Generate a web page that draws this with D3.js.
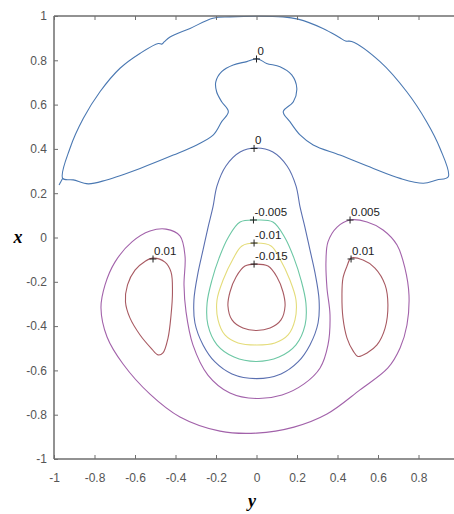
<!DOCTYPE html>
<html><head><meta charset="utf-8">
<script src="https://cdn.jsdelivr.net/npm/d3@7"></script>
<style>html,body{margin:0;padding:0;background:#fff;overflow:hidden}</style>
</head><body><svg id="c" width="454" height="514"></svg>
<script>
// ---- data (horizontal = y, vertical = x) ----
const xTickValues = [-1,-0.8,-0.6,-0.4,-0.2,0,0.2,0.4,0.6,0.8];
const yTickValues = [1,0.8,0.6,0.4,0.2,0,-0.2,-0.4,-0.6,-0.8,-1];

const contour0Top = [[-0.957,0.267],[-0.921,0.403],[-0.855,0.538],[-0.773,0.658],[-0.674,0.764],[-0.574,0.832],[-0.485,0.876],[-0.468,0.873],[-0.455,0.884],[-0.427,0.905],[-0.328,0.944],[-0.215,0.99],[-0.131,0.996],[0.131,0.996],[0.205,0.986],[0.328,0.944],[0.41,0.903],[0.44,0.887],[0.47,0.885],[0.610,0.794],[0.742,0.658],[0.840,0.523],[0.906,0.403],[0.947,0.274],[0.890,0.260],[0.824,0.245],[0.709,0.267],[0.577,0.312],[0.412,0.372],[0.280,0.418],[0.215,0.463],[0.165,0.523],[0.132,0.568],[0.182,0.613],[0.199,0.674],[0.174,0.734],[0.116,0.771],[0.050,0.786],[0.004,0.807],[-0.048,0.794],[-0.115,0.779],[-0.172,0.749],[-0.201,0.703],[-0.197,0.658],[-0.172,0.613],[-0.139,0.568],[-0.172,0.523],[-0.213,0.463],[-0.295,0.418],[-0.411,0.372],[-0.575,0.312],[-0.740,0.260],[-0.831,0.242],[-0.905,0.260]];
const contour0TopTail = [[-0.957,0.267],[-0.975,0.237]];
const contour0Center = [[0,0.404],[0.081,0.386],[0.151,0.323],[0.195,0.233],[0.215,0.138],[0.239,0.047],[0.264,-0.056],[0.289,-0.160],[0.309,-0.282],[0.304,-0.386],[0.264,-0.485],[0.205,-0.562],[0.121,-0.616],[0,-0.637],[-0.121,-0.616],[-0.205,-0.562],[-0.264,-0.485],[-0.304,-0.386],[-0.309,-0.282],[-0.289,-0.160],[-0.264,-0.056],[-0.239,0.047],[-0.215,0.138],[-0.195,0.233],[-0.151,0.323],[-0.081,0.386]];
const contourM005 = [[0,0.079],[0.081,0.070],[0.141,-0.002],[0.185,-0.093],[0.220,-0.192],[0.244,-0.296],[0.240,-0.395],[0.195,-0.485],[0.111,-0.540],[0,-0.560],[-0.111,-0.540],[-0.195,-0.485],[-0.240,-0.395],[-0.244,-0.296],[-0.220,-0.192],[-0.185,-0.093],[-0.141,-0.002],[-0.081,0.070]];
const contourM01 = [[0,-0.025],[0.072,-0.038],[0.116,-0.097],[0.165,-0.192],[0.195,-0.282],[0.190,-0.372],[0.156,-0.440],[0.091,-0.476],[0,-0.485],[-0.091,-0.476],[-0.156,-0.440],[-0.190,-0.372],[-0.195,-0.282],[-0.165,-0.192],[-0.116,-0.097],[-0.072,-0.038]];
const contourM015 = [[0,-0.120],[0.057,-0.129],[0.101,-0.178],[0.131,-0.246],[0.141,-0.309],[0.121,-0.372],[0.067,-0.409],[0,-0.420],[-0.067,-0.409],[-0.121,-0.372],[-0.141,-0.309],[-0.131,-0.246],[-0.101,-0.178],[-0.057,-0.129]];
const contour005 = [[0.462,0.079],[0.546,0.070],[0.625,0.034],[0.694,-0.034],[0.733,-0.138],[0.753,-0.260],[0.743,-0.395],[0.709,-0.499],[0.649,-0.589],[0.511,-0.688],[0.348,-0.797],[0.185,-0.856],[0,-0.883],[-0.180,-0.874],[-0.378,-0.810],[-0.526,-0.707],[-0.659,-0.571],[-0.738,-0.449],[-0.768,-0.318],[-0.748,-0.214],[-0.699,-0.111],[-0.615,-0.020],[-0.526,0.029],[-0.447,0.038],[-0.378,0.007],[-0.353,-0.084],[-0.358,-0.214],[-0.348,-0.336],[-0.314,-0.485],[-0.240,-0.621],[-0.131,-0.702],[0,-0.727],[0.126,-0.711],[0.235,-0.661],[0.314,-0.589],[0.353,-0.485],[0.363,-0.350],[0.348,-0.228],[0.343,-0.111],[0.353,-0.020],[0.398,0.047]];
const contour01Left = [[-0.511,-0.093],[-0.452,-0.111],[-0.422,-0.156],[-0.415,-0.246],[-0.422,-0.350],[-0.437,-0.454],[-0.462,-0.521],[-0.486,-0.530],[-0.521,-0.499],[-0.575,-0.440],[-0.625,-0.363],[-0.647,-0.291],[-0.637,-0.214],[-0.600,-0.147],[-0.551,-0.108]];
const contour01Right = [[0.467,-0.093],[0.526,-0.102],[0.585,-0.138],[0.635,-0.214],[0.649,-0.305],[0.635,-0.409],[0.595,-0.485],[0.546,-0.521],[0.501,-0.537],[0.477,-0.512],[0.447,-0.454],[0.427,-0.363],[0.422,-0.260],[0.427,-0.183],[0.447,-0.129]];

const contourLabels = [
  {text:"0", y:0.0, x:0.806},
  {text:"0", y:-0.012, x:0.402},
  {text:"-0.005", y:-0.015, x:0.079},
  {text:"-0.01", y:-0.012, x:-0.025},
  {text:"-0.015", y:-0.012, x:-0.120},
  {text:"0.005", y:0.462, x:0.079},
  {text:"0.01", y:0.467, x:-0.097},
  {text:"0.01", y:-0.511, x:-0.097}
];

// ---- drawing ----
const svg = d3.select("#c");
const sx = d3.scaleLinear().domain([-1,1]).range([54,459]);
const sy = d3.scaleLinear().domain([-1,1]).range([459,16]);

const series = [
  {pts:contour0Top, color:"#4a78b2", closed:true},
  {pts:contour0TopTail, color:"#4a78b2", closed:false},
  {pts:contour0Center, color:"#5a6fb0", closed:true},
  {pts:contourM005, color:"#6cc7a4", closed:true},
  {pts:contourM01, color:"#e4dc7a", closed:true},
  {pts:contourM015, color:"#a85a62", closed:true},
  {pts:contour005, color:"#a262aa", closed:true},
  {pts:contour01Left, color:"#a85a62", closed:true},
  {pts:contour01Right, color:"#a85a62", closed:true}
];

const lineClosed = d3.line().x(d=>sx(d[0])).y(d=>sy(d[1])).curve(d3.curveCatmullRomClosed.alpha(0.5));
const lineOpen = d3.line().x(d=>sx(d[0])).y(d=>sy(d[1]));

series.forEach(s=>{
  svg.append("path").attr("d",(s.closed?lineClosed:lineOpen)(s.pts))
    .attr("fill","none").attr("stroke",s.color).attr("stroke-width",1.1);
});

// frame
const frame = svg.append("g").attr("stroke","#6e6e6e").attr("stroke-width",1.5).attr("fill","none");
frame.append("line").attr("x1",sx(-1)).attr("x2",sx(1)).attr("y1",sy(1)).attr("y2",sy(1));
frame.append("line").attr("x1",sx(-1)).attr("x2",sx(1)).attr("y1",sy(-1)).attr("y2",sy(-1));
frame.append("line").attr("x1",sx(-1)).attr("x2",sx(-1)).attr("y1",sy(-1)).attr("y2",sy(1));
frame.append("line").attr("x1",sx(1)).attr("x2",sx(1)).attr("y1",sy(-1)).attr("y2",sy(1));

const fmt = d=> d===0?"0":String(d);
const axB = d3.axisBottom(sx).tickValues(xTickValues).tickSize(-4).tickPadding(14).tickFormat(fmt);
const gb = svg.append("g").attr("transform",`translate(0,${sy(-1)})`).call(axB);
const axT = d3.axisTop(sx).tickValues(xTickValues).tickSize(-4).tickFormat("");
const gt = svg.append("g").attr("transform",`translate(0,${sy(1)})`).call(axT);
const axL = d3.axisLeft(sy).tickValues(yTickValues).tickSize(-4).tickPadding(7).tickFormat(fmt);
const gl = svg.append("g").attr("transform",`translate(${sx(-1)},0)`).call(axL);
[gb,gt,gl].forEach(g=>{
  g.select(".domain").remove();
  g.selectAll(".tick line").attr("stroke","#6e6e6e").attr("stroke-width",1);
  g.selectAll(".tick text").attr("fill","#555").attr("font-family","Liberation Sans, Arial, sans-serif").attr("font-size",12);
});

// contour labels
contourLabels.forEach(l=>{
  const px = sx(l.y), py = sy(l.x);
  svg.append("path").attr("d",`M${px-3.5},${py}H${px+3.5}M${px},${py-3.5}V${py+3.5}`)
    .attr("stroke","#222").attr("stroke-width",1);
  svg.append("text").attr("x",px+1).attr("y",py-4).text(l.text)
    .attr("font-family","Liberation Sans, Arial, sans-serif").attr("font-size",11.5).attr("fill","#222");
});

// axis titles
svg.append("text").attr("x",18).attr("y",sy(0)+5).attr("text-anchor","middle")
  .attr("font-family","Liberation Serif, Times New Roman, serif").attr("font-style","italic").attr("font-weight","bold")
  .attr("font-size",18).text("x");
svg.append("text").attr("x",252).attr("y",507).attr("text-anchor","middle")
  .attr("font-family","Liberation Serif, Times New Roman, serif").attr("font-style","italic").attr("font-weight","bold")
  .attr("font-size",18).text("y");
</script></body></html>
